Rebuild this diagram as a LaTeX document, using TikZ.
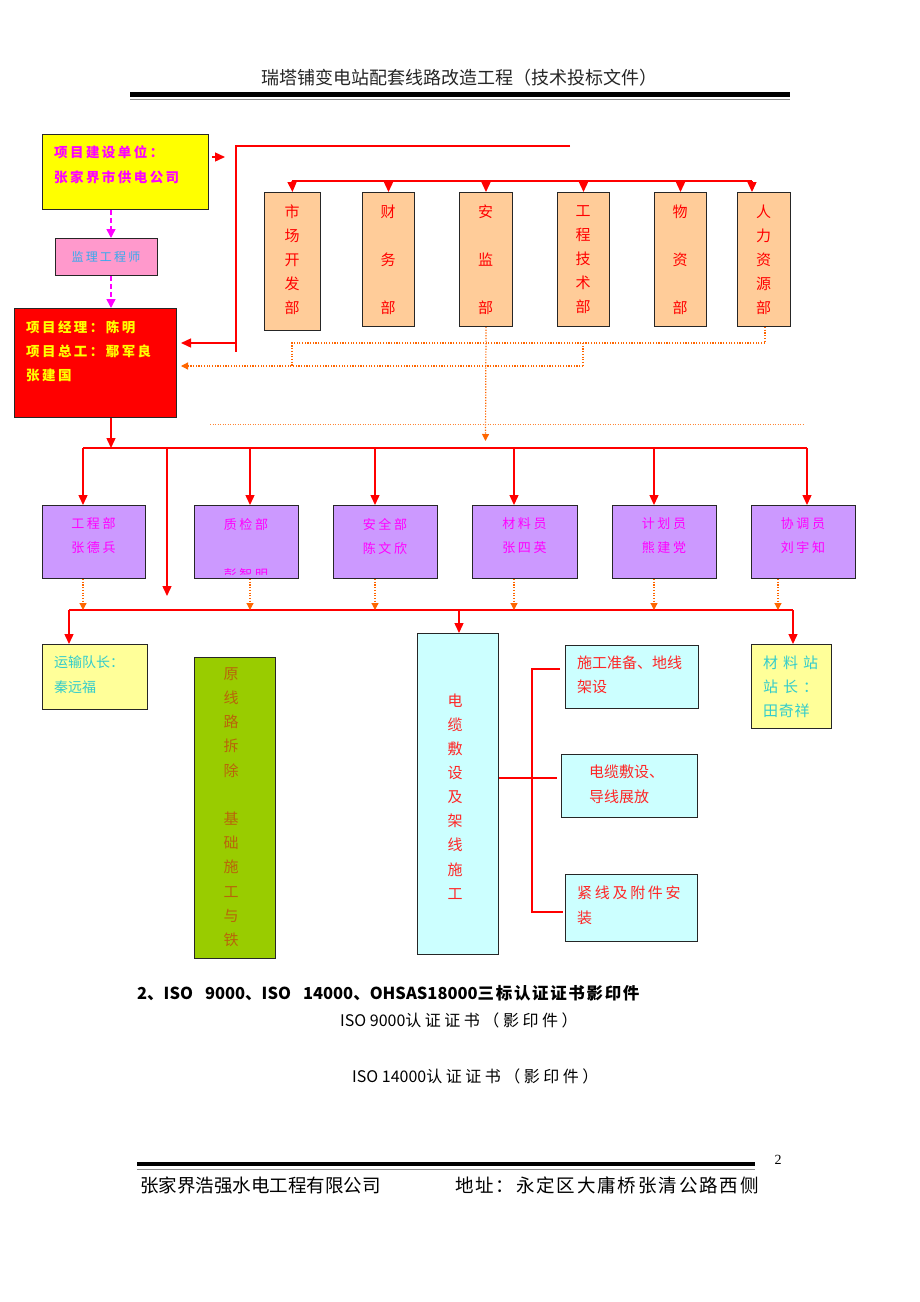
\documentclass[tikz,border=0pt]{standalone}
\usepackage{fontspec}
\setmainfont{Liberation Serif}
\newfontfamily\cjk{Noto Sans CJK SC}
\usetikzlibrary{arrows.meta}
\definecolor{peach}{HTML}{FFCC99}
\definecolor{lilac}{HTML}{CC99FF}
\definecolor{lyellow}{HTML}{FFFF99}
\definecolor{lcyan}{HTML}{CCFFFF}
\definecolor{grnbox}{HTML}{99CC00}
\definecolor{pinkbox}{HTML}{FF99CC}
\definecolor{skytext}{HTML}{33AAEE}
\definecolor{tealtext}{HTML}{33CCCC}
\definecolor{brntext}{HTML}{B8650A}
\definecolor{odc}{HTML}{FF6600}
\definecolor{mag}{HTML}{FF00FF}
\definecolor{ylw}{HTML}{FFFF00}
\newcommand\fsz[2]{\fontsize{#1pt}{#2pt}\selectfont}
\newcommand\lsp[1]{\addfontfeature{LetterSpace=#1}}
% \bx[style]{x1}{y1}{x2}{y2}{name}
\newcommand\bx[6][]{%
  \node[box,#1,minimum width={(#4-#2)*1pt},minimum height={(#5-#3)*1pt}] (#6) at (#2,#3) {};}
\begin{document}
\begin{tikzpicture}[x=1pt,y=-1pt,
  box/.style={draw=black!85,line width=1pt,inner sep=0pt,anchor=north west},
  rline/.style={draw=red,line width=1.4pt},
  rarr/.style={rline,-{Triangle[length=10pt,width=9pt]}},
  odot/.style={draw=odc,line width=1.2pt,dash pattern=on 1.2pt off 1.5pt},
  oarr/.style={odot,-{Triangle[length=7pt,width=7pt]}},
  marr/.style={draw=mag,line width=1.4pt,dash pattern=on 5pt off 3pt,-{Triangle[length=9pt,width=9pt]}},
  lbl/.style={inner sep=0pt,anchor=west},
  vtxt/.style={inner sep=0pt,align=center},
  deptxt/.style={vtxt,text=red,font=\cjk\fsz{15}{24}},
  purtxt/.style={vtxt,text=mag,font=\cjk\fsz{13}{24}\lsp{20}},
]
\fill[white] (0,0) rectangle (920,1302);
\useasboundingbox (0,0) rectangle (920,1302);

% ---------- header ----------
\node[inner sep=0pt,font=\cjk\fsz{18}{20},text=black!85] (hdr) at (459,78) {瑞塔铺变电站配套线路改造工程（技术投标文件）};
\draw[line width=4.5pt] (130,94.5) -- (790,94.5);
\draw[line width=1pt,black!45] (130,99.5) -- (790,99.5);

% ---------- top left chain ----------
\bx[fill=ylw]{42}{134}{208}{209}{ybox}
\node[lbl,text=mag,font=\cjk\bfseries\fsz{13.5}{16}\lsp{18}] (yt1) at (54,152) {项目建设单位：};
\node[lbl,text=mag,font=\cjk\bfseries\fsz{13.5}{16}\lsp{18}] (yt2) at (54,177) {张家界市供电公司};

\bx[fill=pinkbox]{55}{238}{157}{275}{pbox}
\node[inner sep=0pt,text=skytext,font=\cjk\fsz{12}{14}\lsp{18}] (pt) at (106,257) {监理工程师};

\bx[fill=red]{14}{308}{176}{417}{rbox}
\node[lbl,text=ylw,font=\cjk\bfseries\fsz{13.5}{16}\lsp{18}] (rt1) at (26,327) {项目经理：陈明};
\node[lbl,text=ylw,font=\cjk\bfseries\fsz{13.5}{16}\lsp{18}] (rt2) at (26,351) {项目总工：鄢军良};
\node[lbl,text=ylw,font=\cjk\bfseries\fsz{13.5}{16}\lsp{18}] (rt3) at (26,375) {张建国};

\coordinate (xa) at (111,0);
\draw[marr] (ybox.south -| xa) -- (pbox.north -| xa);
\draw[marr] (pbox.south -| xa) -- (rbox.north -| xa);

% small arrow right of the yellow box
\coordinate (ya) at (0,157);
\draw[rarr] ([xshift=3pt]ybox.east |- ya) -- ([xshift=16pt]ybox.east |- ya);

% ---------- department boxes ----------
\bx[fill=peach]{264}{192}{320}{330}{d1}
\bx[fill=peach]{362}{192}{414}{326}{d2}
\bx[fill=peach]{459}{192}{512}{326}{d3}
\bx[fill=peach]{557}{192}{609}{326}{d4}
\bx[fill=peach]{654}{192}{706}{326}{d5}
\bx[fill=peach]{737}{192}{790}{326}{d6}
\node[deptxt] (d1t) at (292,260) {市\\场\\开\\发\\部};
\node[deptxt] (d2t) at (388,260) {财\\[24pt]务\\[24pt]部};
\node[deptxt] (d3t) at (485.5,260) {安\\[24pt]监\\[24pt]部};
\node[deptxt] (d4t) at (583,260) {工\\程\\技\\术\\部};
\node[deptxt] (d5t) at (680,260) {物\\[24pt]资\\[24pt]部};
\node[deptxt] (d6t) at (763.5,260) {人\\力\\资\\源\\部};

% red frame line and bus above departments
\coordinate (c1) at (236,146);
\coordinate (c2) at (570,146);
\coordinate (c3) at (236,352);
\coordinate (c4) at (236,343);
\draw[rline] (c2) -- (c1) -- (c3);
\draw[rarr,shorten >=4pt] (c4) -- (c4 -| rbox.east);

\coordinate (bt1) at (292,181);
\coordinate (bt6) at (752,181);
\draw[rline] (bt1) -- (bt6);
\draw[rarr] (bt1) -- (d1.north);
\draw[rarr] (d2.north |- bt1) -- (d2.north);
\draw[rarr] (d3.north |- bt1) -- (d3.north);
\draw[rarr] (d4.north |- bt1) -- (d4.north);
\draw[rarr] (d5.north |- bt1) -- (d5.north);
\draw[rarr] (bt6) -- (d6.north -| bt6);

% orange dotted feedback lines
\coordinate (o1) at (765,343);
\coordinate (o2) at (292,343);
\coordinate (o3) at (292,366);
\coordinate (o4) at (583,343);
\coordinate (o5) at (583,366);
\draw[odot] (d6.south -| o1) -- (o1) -- (o2) -- (o3);
\draw[odot] (o4) -- (o5);
\draw[oarr,shorten >=4pt] (o5) -- (o5 -| rbox.east);
\coordinate (o6) at (485.5,441);
\draw[oarr] (d3.south) -- (o6);
\draw[draw=odc!80,line width=0.9pt,dash pattern=on 1pt off 1.5pt] (210,424) -- (805,424);

% ---------- middle bus and purple boxes ----------
\bx[fill=lilac]{42}{505}{145}{578}{p1}
\bx[fill=lilac]{194}{505}{298}{578}{p2}
\bx[fill=lilac]{333}{505}{437}{578}{p3}
\bx[fill=lilac]{472}{505}{577}{578}{p4}
\bx[fill=lilac]{612}{505}{716}{578}{p5}
\bx[fill=lilac]{751}{505}{855}{578}{p6}
\node[purtxt] (p1t) at (93.5,536) {工程部\\张德兵};
\node[purtxt] (p2t) at (246,524) {质检部};
\begin{scope}
  \clip (196,558) rectangle (296,574);
  \node[purtxt] (p2n) at (246,575) {彭智明};
\end{scope}
\node[purtxt] (p3t) at (385,536) {安全部\\陈文欣};
\node[purtxt] (p4t) at (524.5,536) {材料员\\张四英};
\node[purtxt] (p5t) at (664,536) {计划员\\熊建党};
\node[purtxt] (p6t) at (803,536) {协调员\\刘宇知};

\coordinate (m0) at (83,448);
\coordinate (m1) at (807,448);
\coordinate (mr) at (111,448);
\draw[rline] (m0) -- (m1);
\draw[rarr] (rbox.south -| mr) -- (mr);
\draw[rarr] (m0) -- (p1.north -| m0);
\coordinate (mx2) at (250,0);
\coordinate (mx3) at (375,0);
\coordinate (mx4) at (514,0);
\coordinate (mx5) at (654,0);
\draw[rarr] (m0 -| mx2) -- (p2.north -| mx2);
\draw[rarr] (m0 -| mx3) -- (p3.north -| mx3);
\draw[rarr] (m0 -| mx4) -- (p4.north -| mx4);
\draw[rarr] (m0 -| mx5) -- (p5.north -| mx5);
\draw[rarr] (m1) -- (p6.north -| m1);
\coordinate (mv) at (167,596);
\draw[rarr] (m0 -| mv) -- (mv);

% ---------- lower bus ----------
\coordinate (l0) at (69,610);
\coordinate (l1) at (793,610);
\draw[rline] (l0) -- (l1);
\coordinate (lx6) at (778,0);
\draw[oarr] (p1.south -| m0) -- (l0 -| m0);
\draw[oarr] (p2.south -| mx2) -- (l0 -| mx2);
\draw[oarr] (p3.south -| mx3) -- (l0 -| mx3);
\draw[oarr] (p4.south -| mx4) -- (l0 -| mx4);
\draw[oarr] (p5.south -| mx5) -- (l0 -| mx5);
\draw[oarr] (p6.south -| lx6) -- (l0 -| lx6);

% ---------- bottom boxes ----------
\bx[fill=lyellow]{42}{644}{147}{709}{b1}
\node[lbl,text=tealtext,font=\cjk\fsz{14}{16}] (b1t1) at (54,662) {运输队长：};
\node[lbl,text=tealtext,font=\cjk\fsz{14}{16}] (b1t2) at (54,687) {秦远福};

\bx[fill=grnbox]{194}{657}{275}{958}{g}
\node[vtxt,text=brntext,font=\cjk\fsz{15}{24.2}] (gt) at (231,807) {原\\线\\路\\拆\\除\\[24.2pt]基\\础\\施\\工\\与\\铁};

\bx[fill=lcyan]{417}{633}{498}{954}{cb}
\node[vtxt,text=red!85,font=\cjk\fsz{15}{24.1}] (cbt) at (455,796.5) {电\\缆\\敷\\设\\及\\架\\线\\施\\工};

\bx[fill=lcyan]{565}{645}{698}{708}{sa}
\node[lbl,text=red!85,font=\cjk\fsz{15}{17}] (sat1) at (577,663) {施工准备、地线};
\node[lbl,text=red!85,font=\cjk\fsz{15}{17}] (sat2) at (577,687) {架设};

\bx[fill=lcyan]{561}{754}{697}{817}{sb}
\node[lbl,text=red!85,font=\cjk\fsz{15}{17}] (sbt1) at (589,772) {电缆敷设、};
\node[lbl,text=red!85,font=\cjk\fsz{15}{17}] (sbt2) at (589,797) {导线展放};

\bx[fill=lcyan]{565}{874}{697}{941}{sc}
\node[lbl,text=red!85,font=\cjk\fsz{15}{17}\lsp{18}] (sct1) at (577,893) {紧线及附件安};
\node[lbl,text=red!85,font=\cjk\fsz{15}{17}] (sct2) at (577,918) {装};

\bx[fill=lyellow]{751}{644}{831}{728}{mz}
\node[lbl,text=tealtext,font=\cjk\fsz{15}{17}] (mzt1) at (763,663) {材\hspace{5pt}料\hspace{5pt}站};
\node[lbl,text=tealtext,font=\cjk\fsz{15}{17}] (mzt2) at (763,687) {站\hspace{5pt}长\hspace{5pt}：};
\node[lbl,text=tealtext,font=\cjk\fsz{15}{17}\lsp{5}] (mzt3) at (763,711) {田奇祥};

\draw[rarr] (l0) -- (b1.north -| l0);
\coordinate (lx) at (459,0);
\draw[rarr] (l0 -| lx) -- (cb.north -| lx);
\draw[rarr] (l1) -- (mz.north -| l1);

% cable box branches
\coordinate (k0) at (0,778);
\coordinate (kx) at (532,0);
\coordinate (ka) at (532,669);
\coordinate (kc) at (532,912);
\draw[rline] (cb.east |- k0) -- (kx |- k0) -- ([xshift=-4pt]sb.west |- k0);
\draw[rline] ([xshift=-5pt]sa.west |- ka) -- (ka) -- (kc) -- ([xshift=-2pt]sc.west |- kc);

% ---------- text below ----------
\node[lbl,font=\cjk\bfseries\fsz{16.5}{19}] (iso0) at (137,993) {2、ISO\hspace{12pt}9000、ISO\hspace{12pt}14000、OHSAS18000{\lsp{10}三标认证证书影印件}};
\node[lbl,font=\cjk\fsz{16}{18}] (iso1) at (340,1020) {ISO 9000{\lsp{22}认证证书（影印件）}};
\node[lbl,font=\cjk\fsz{16}{18}] (iso2) at (352,1076) {ISO 14000{\lsp{22}认证证书（影印件）}};

% ---------- footer ----------
\draw[line width=4.5pt] (137,1164) -- (755,1164);
\draw[line width=1pt,black!45] (137,1169) -- (755,1169);
\node[inner sep=0pt,font=\fsz{14}{16}] (pg) at (778,1160) {2};
\node[lbl,font=\cjk\fsz{18.5}{20}] (f1) at (140,1185) {张家界浩强水电工程有限公司};
\node[lbl,font=\cjk\fsz{18.5}{20}\lsp{10}] (f2) at (455,1185) {地址：永定区大庸桥张清公路西侧};
\end{tikzpicture}
\end{document}
